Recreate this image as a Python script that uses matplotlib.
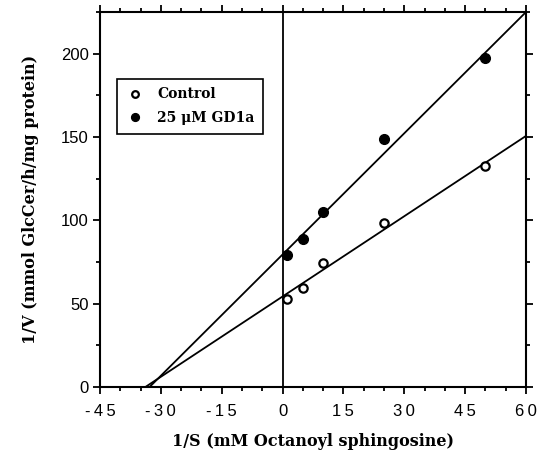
import matplotlib
matplotlib.use("Agg")
import matplotlib.pyplot as plt
import numpy as np

inv_s = [1, 5, 10, 25, 50]
control = [52.6, 59.6, 74.6, 98.3, 132.8]
gd1a = [79.2, 88.6, 104.9, 148.6, 197.3]

# fitted lines (slope, intercept at 1/S = 0)
control_fit = (1.606, 54.3)
gd1a_fit = (2.425, 79.5)

xticks = [-45, -30, -15, 0, 15, 30, 45, 60]
yticks = [0, 50, 100, 150, 200]

fig = plt.figure(figsize=(5.42, 4.57), dpi=100)
ax = fig.add_axes([0.1845, 0.1532, 0.786, 0.8205])

xmax = 60
for (slope, icpt) in (control_fit, gd1a_fit):
    x0 = -icpt / slope
    xs = np.array([x0, xmax])
    ax.plot(xs, slope * xs + icpt, color="black", lw=1.3, zorder=2)

ax.axvline(0, color="black", lw=1.3, zorder=2)

ax.plot(inv_s, control, "o", mfc="white", mec="black", mew=1.6, ms=6,
        ls="none", label="Control", zorder=3)
ax.plot(inv_s, gd1a, "o", mfc="black", mec="black", ms=7,
        ls="none", label="25 \u03bcM GD1a", zorder=3)

ax.set_xlim(-45, 60)
ax.set_ylim(0, 225)

ax.set_xticks(xticks)
ax.set_xticklabels(["\u2009".join(str(t)) for t in xticks],
                   family=["Liberation Sans", "DejaVu Sans"], fontsize=12)
ax.set_xticks(np.arange(-45, 61, 5), minor=True)
ax.set_yticks(yticks)
ax.set_yticklabels([str(t) for t in yticks],
                   family=["Liberation Sans", "DejaVu Sans"], fontsize=12)
ax.set_yticks(np.arange(0, 226, 25), minor=True)

ax.tick_params(which="both", direction="out", top=True, right=True,
               labeltop=False, labelright=False, width=1.3, color="black")
ax.tick_params(which="major", length=5, pad=3)
ax.tick_params(axis="x", which="major", pad=7)
ax.tick_params(which="minor", length=3)
for sp in ax.spines.values():
    sp.set_linewidth(1.5)

ax.set_xlabel("1/S (mM Octanoyl sphingosine)", family="DejaVu Serif",
              fontweight="bold", fontsize=11.5, labelpad=10)
ax.set_ylabel("1/V (mmol GlcCer/h/mg protein)", family="DejaVu Serif",
              fontweight="bold", fontsize=11.5, labelpad=16)

leg = ax.legend(loc="upper left", bbox_to_anchor=(0.04, 0.821),
                borderaxespad=0,
                prop={"family": "DejaVu Serif", "weight": "bold", "size": 10},
                fancybox=False, framealpha=1, edgecolor="black",
                handletextpad=0.9, borderpad=0.6, markerscale=0.8,
                handlelength=1.4, labelspacing=0.7)
leg.get_frame().set_linewidth(1.2)

fig.savefig("out.png", dpi=100)
